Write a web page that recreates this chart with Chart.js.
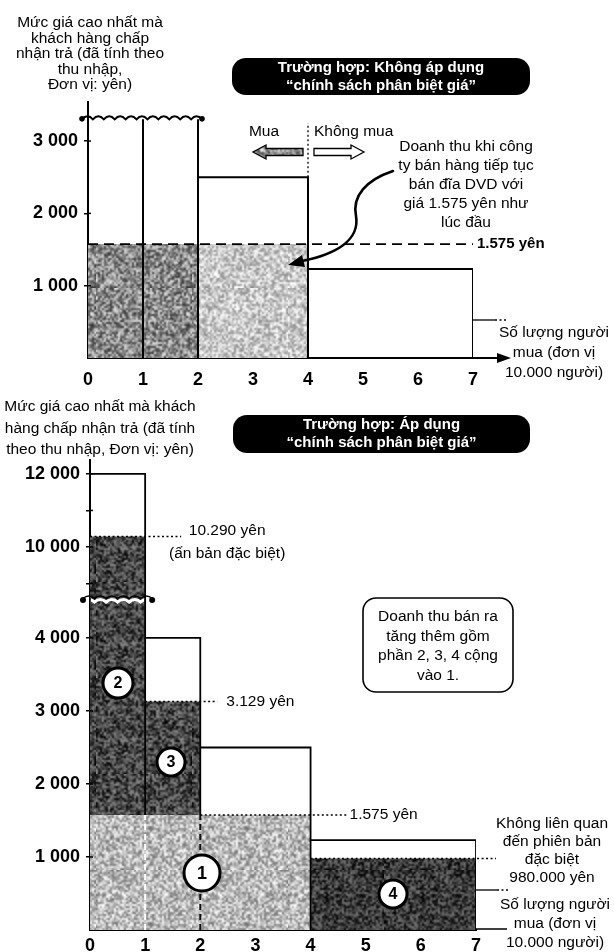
<!DOCTYPE html>
<html lang="vi">
<head>
<meta charset="utf-8">
<script src="https://cdn.jsdelivr.net/npm/chart.js@4/dist/chart.umd.min.js"></script>
<style>
  html, body { margin: 0; padding: 0; background: #fff; }
  body { width: 614px; height: 952px; position: relative; overflow: hidden; }
  canvas { position: absolute; left: 0; }
  #top { top: 0; }
  #bottom { top: 390px; }
</style>
</head>
<body>
<canvas id="top" width="614" height="390"></canvas>
<canvas id="bottom" width="614" height="562"></canvas>
<script>
// Demand steps: buyer groups (unit: 10,000 people) and the highest price each group accepts (yen)
const buyerBounds = [0, 1, 2, 4, 7];
const maxPrices = [12000, 4000, 2500, 1230];

// Prices used in the two cases
const basePrice = 1575;      // one price for everybody
const specialPrice = 10290;  // special edition
const secondPrice = 3129;    // second group
const otherPrice = 980;      // buyers who ignore the special edition
const buyersAtBase = 4;      // buyers who still buy at basePrice

// Axis ticks
const xTicks = [0, 1, 2, 3, 4, 5, 6, 7];
const topPriceTicks = [1000, 2000, 3000];
const lowPriceTicks = [1000, 2000, 3000, 4000];
const highPriceTicks = [9000, 10000, 11000, 12000];
const highPriceLabels = [10000, 12000];

// Axis ranges (the upper chart cuts the tall bars, the lower one breaks its axis)
const topAxisMax = 3540, topBreak = 3300;
const lowAxisMax = 4520, highAxisMin = 8550, highAxisMax = 12380;

const FONT = "'Liberation Sans', Arial, Helvetica, sans-serif";
const font = (size, bold) => (bold ? 'bold ' : '') + size + 'px ' + FONT;
const TXT = font(15.5);
const fmt = v => String(v).replace(/\B(?=(\d{3})+(?!\d))/g, ' ');

// Halftone-like grain for the shaded areas (coarse noise, softened by upscaling)
function grain(level, spread, seed) {
  const n = 48, c = document.createElement('canvas');
  c.width = c.height = n;
  const g = c.getContext('2d');
  const img = g.createImageData(n, n);
  let s = seed >>> 0;
  for (let i = 0; i < n * n; i++) {
    s = (Math.imul(s, 1664525) + 1013904223) >>> 0;
    const v = Math.max(0, Math.min(255, level + ((s >>> 24) - 128) / 128 * spread));
    img.data[i * 4] = img.data[i * 4 + 1] = img.data[i * 4 + 2] = v;
    img.data[i * 4 + 3] = 255;
  }
  g.putImageData(img, 0, 0);
  const big = document.createElement('canvas');
  big.width = big.height = n * 2;
  const b = big.getContext('2d');
  b.imageSmoothingEnabled = true;
  b.drawImage(c, 0, 0, n * 2, n * 2);
  return b.createPattern(big, 'repeat');
}
const grainTopDark = grain(140, 85, 7);
const grainTopLight = grain(200, 60, 11);
const grainArrow = grain(150, 80, 3);
const grainBase = grain(185, 70, 5);
const grainDeep = grain(72, 70, 13);
const grainDeeper = grain(60, 60, 17);

const pts = arr => arr.map(([x, y]) => ({ x, y }));
function fillSet(points, fill, bg, axis, order) {
  return { data: pts(points), fill, backgroundColor: bg, borderColor: 'rgba(0,0,0,0)', borderWidth: 1,
           pointRadius: 0, yAxisID: axis, order };
}
function lineSet(points, axis, extra) {
  return Object.assign({ data: pts(points), fill: false, borderColor: '#000', borderWidth: 2, pointRadius: 0,
           yAxisID: axis, order: 1, borderCapStyle: 'butt', borderJoinStyle: 'miter' }, extra || {});
}

// ---------- drawing helpers ----------
function textLines(ctx, lines, x, y0, lh, f, align, color) {
  ctx.font = f; ctx.fillStyle = color || '#000';
  ctx.textAlign = align || 'center'; ctx.textBaseline = 'middle';
  lines.forEach((t, i) => ctx.fillText(t, x, y0 + i * lh));
}
function roundRect(ctx, x, y, w, h, r) {
  ctx.beginPath();
  ctx.moveTo(x + r, y);
  ctx.arcTo(x + w, y, x + w, y + h, r);
  ctx.arcTo(x + w, y + h, x, y + h, r);
  ctx.arcTo(x, y + h, x, y, r);
  ctx.arcTo(x, y, x + w, y, r);
  ctx.closePath();
}
function dotted(ctx, x0, x1, y, w) {
  ctx.save();
  ctx.setLineDash([2, 2.5]); ctx.lineWidth = w || 1.5; ctx.strokeStyle = '#000';
  ctx.beginPath(); ctx.moveTo(x0, y); ctx.lineTo(x1, y); ctx.stroke();
  ctx.restore();
}
function wavePath(ctx, x0, x1, y, amp, n) {
  const step = (x1 - x0) / n;
  ctx.beginPath(); ctx.moveTo(x0, y);
  for (let i = 0; i < n; i++) {
    const a = x0 + i * step;
    ctx.quadraticCurveTo(a + step / 2, y - amp * 2, a + step, y);
  }
}
function dot(ctx, x, y, r) { ctx.beginPath(); ctx.arc(x, y, r, 0, Math.PI * 2); ctx.fillStyle = '#000'; ctx.fill(); }
function blockArrow(ctx, tailX, tipX, y, fillStyle) {
  const dir = Math.sign(tipX - tailX), headL = 13, shaft = 3.5, head = 7;
  const neck = tipX - dir * headL;
  ctx.beginPath();
  ctx.moveTo(tailX, y - shaft); ctx.lineTo(neck, y - shaft); ctx.lineTo(neck, y - head);
  ctx.lineTo(tipX, y); ctx.lineTo(neck, y + head); ctx.lineTo(neck, y + shaft); ctx.lineTo(tailX, y + shaft);
  ctx.closePath();
  ctx.fillStyle = fillStyle; ctx.fill();
  ctx.lineWidth = 1.3; ctx.strokeStyle = '#000'; ctx.stroke();
}
function badge(ctx, cx, cy, r, label) {
  ctx.beginPath(); ctx.arc(cx, cy, r, 0, Math.PI * 2);
  ctx.fillStyle = '#fff'; ctx.fill();
  ctx.lineWidth = 3; ctx.strokeStyle = '#000'; ctx.stroke();
  ctx.fillStyle = '#000'; ctx.font = font(r > 16 ? 18 : 16, true);
  ctx.textAlign = 'center'; ctx.textBaseline = 'middle';
  ctx.fillText(label, cx, cy + 1);
}
function titleBox(ctx, x, y, w, h, lines) {
  roundRect(ctx, x, y, w, h, 14);
  ctx.fillStyle = '#000'; ctx.fill();
  textLines(ctx, lines, x + w / 2, y + 10, 18, font(15, true), 'center', '#fff');
}

// ---------- shared axis options ----------
function xAxis(height, pad) {
  return {
    type: 'linear', min: 0, max: 7,
    afterBuildTicks: s => { s.ticks = xTicks.map(v => ({ value: v })); },
    afterFit: s => { s.height = height; },
    grid: { display: false, drawTicks: false },
    border: { display: true, color: '#000', width: 2 },
    ticks: { color: '#000', font: { family: FONT, size: 18, weight: 'bold' }, padding: pad,
             maxRotation: 0, autoSkip: false, callback: v => String(v) }
  };
}
function yAxis(width, min, max, tickValues, labelled, extra) {
  return Object.assign({
    type: 'linear', position: 'left', min, max,
    afterBuildTicks: s => { s.ticks = tickValues.map(v => ({ value: v })); },
    afterFit: s => { s.width = width; },
    grid: { display: true, drawOnChartArea: false, drawTicks: true, tickLength: 4, color: '#000', lineWidth: 1.5 },
    border: { display: true, color: '#000', width: 2 },
    ticks: { color: '#000', font: { family: FONT, size: 18, weight: 'bold' }, padding: 6, autoSkip: false,
             callback: v => (labelled.includes(v) ? fmt(v) : '') }
  }, extra || {});
}
const baseOptions = {
  responsive: false, animation: false, events: [], devicePixelRatio: 1,
  plugins: { legend: { display: false }, tooltip: { enabled: false }, title: { display: false } }
};

// ================= Case 1: one price for everybody =================
const topSets = [
  fillSet([[0, basePrice], [2, basePrice]], 'origin', grainTopDark, 'y', 12),
  fillSet([[2, basePrice], [buyersAtBase, basePrice]], 'origin', grainTopLight, 'y', 12),
  lineSet([[0, basePrice], [7, basePrice]], 'y', { borderDash: [10, 6], borderWidth: 1.8, order: 5 })
];
maxPrices.forEach((p, i) => {
  const x0 = buyerBounds[i], x1 = buyerBounds[i + 1];
  const h = Math.min(p, topBreak);
  const path = p > topBreak ? [[x1, h], [x1, 0]] : [[x0, h], [x1, h], [x1, 0]];
  topSets.push(lineSet(path, 'y', { borderWidth: 2 }));
});

const topDecor = {
  id: 'topDecor',
  afterDraw(chart) {
    const { ctx, scales: { x, y } } = chart;
    const X = v => x.getPixelForValue(v), Y = v => y.getPixelForValue(v);
    ctx.save();
    ctx.strokeStyle = '#000'; ctx.fillStyle = '#000';

    // inner halves of the price ticks
    ctx.lineWidth = 1.5;
    topPriceTicks.forEach(v => { ctx.beginPath(); ctx.moveTo(X(0), Y(v)); ctx.lineTo(X(0) + 3, Y(v)); ctx.stroke(); });

    // quantity axis arrow
    ctx.lineWidth = 2;
    ctx.beginPath(); ctx.moveTo(X(7), Y(0)); ctx.lineTo(X(7) + 28, Y(0)); ctx.stroke();
    ctx.beginPath(); ctx.moveTo(X(7) + 38, Y(0)); ctx.lineTo(X(7) + 24, Y(0) - 5); ctx.lineTo(X(7) + 24, Y(0) + 5);
    ctx.closePath(); ctx.fill();

    // leader to the axis name
    ctx.lineWidth = 1.3;
    ctx.beginPath(); ctx.moveTo(X(7), Y(0) - 38); ctx.lineTo(X(7) + 22, Y(0) - 38); ctx.stroke();
    dotted(ctx, X(7) + 22, X(7) + 35, Y(0) - 38, 1.3);

    // cut of the tall bars
    ctx.lineWidth = 2;
    wavePath(ctx, X(0) - 6, X(2) + 4, Y(topBreak), 3, 11); ctx.stroke();
    dot(ctx, X(0) - 6, Y(topBreak) - 0.5, 2.8); dot(ctx, X(2) + 4, Y(topBreak) - 0.5, 2.8);

    // buy / don't buy divider
    ctx.save(); ctx.setLineDash([2, 2.5]); ctx.lineWidth = 1.3;
    ctx.beginPath(); ctx.moveTo(X(buyersAtBase), Y(maxPrices[2])); ctx.lineTo(X(buyersAtBase), 123); ctx.stroke();
    ctx.restore();
    textLines(ctx, ['Mua'], X(buyersAtBase) - 44, 132, 0, TXT, 'center');
    textLines(ctx, ['Không mua'], X(buyersAtBase) + 6, 132, 0, TXT, 'left');
    blockArrow(ctx, X(buyersAtBase) - 5, X(buyersAtBase) - 55, 152, grainArrow);
    blockArrow(ctx, X(buyersAtBase) + 6, X(buyersAtBase) + 56, 152, '#fff');

    // price label
    textLines(ctx, ['1.575 yên'], 477, Y(basePrice), 0, font(15, true), 'left');

    // revenue note with curved pointer
    textLines(ctx, ['Doanh thu khi công', 'ty bán hàng tiếp tục', 'bán đĩa DVD với', 'giá 1.575 yên như', 'lúc đầu'],
              466, 147, 19, TXT, 'center');
    ctx.lineWidth = 2.6; ctx.lineCap = 'round';
    ctx.beginPath(); ctx.moveTo(393, 171);
    ctx.bezierCurveTo(366, 180, 352, 196, 356, 216);
    ctx.bezierCurveTo(360, 240, 336, 254, 302, 261);
    ctx.stroke();
    ctx.beginPath(); ctx.moveTo(288, 265); ctx.lineTo(302, 255); ctx.lineTo(305, 267); ctx.closePath(); ctx.fill();

    // axis names
    textLines(ctx, ['Mức giá cao nhất mà', 'khách hàng chấp', 'nhận trả (đã tính theo', 'thu nhập,', 'Đơn vị: yên)'],
              90, 23, 15.5, TXT, 'center');
    textLines(ctx, ['Số lượng người', 'mua (đơn vị', '10.000 người)'], 554, 333, 20, TXT, 'center');

    titleBox(ctx, 232, 58, 298, 37, ['Trường hợp: Không áp dụng', '“chính sách phân biệt giá”']);
    ctx.restore();
  }
};

new Chart(document.getElementById('top'), {
  type: 'line',
  data: { datasets: topSets },
  options: Object.assign({}, baseOptions, {
    layout: { padding: { top: 102, right: 141, left: 0, bottom: 0 } },
    scales: { x: xAxis(32, 11), y: yAxis(88, 0, topAxisMax, topPriceTicks, topPriceTicks) }
  }),
  plugins: [topDecor]
});

// ================= Case 2: price discrimination =================
const lowSets = [
  fillSet([[0, basePrice], [buyersAtBase, basePrice]], 'origin', grainBase, 'yLow', 12),
  fillSet([[0, Math.min(specialPrice, lowAxisMax)], [1, Math.min(specialPrice, lowAxisMax)]], { value: basePrice }, grainDeep, 'yLow', 11),
  fillSet([[1, secondPrice], [2, secondPrice]], { value: basePrice }, grainDeep, 'yLow', 11),
  fillSet([[buyersAtBase, otherPrice], [7, otherPrice]], 'origin', grainDeeper, 'yLow', 11)
];
maxPrices.forEach((p, i) => {
  const x0 = buyerBounds[i], x1 = buyerBounds[i + 1];
  const inBlock = x1 < buyersAtBase;
  const bottom = inBlock ? basePrice : 0;
  const path = p > lowAxisMax ? [[x1, lowAxisMax], [x1, bottom]] : [[x0, p], [x1, p], [x1, bottom]];
  lowSets.push(lineSet(path, 'yLow', { borderWidth: 1.8 }));
  if (inBlock) {
    lowSets.push(lineSet([[x1, 0], [x1, basePrice]], 'yLow',
      { borderDash: [6, 4], borderWidth: 2, borderColor: i === 0 ? '#fff' : '#111', order: 4 }));
  }
});
const highSets = [
  fillSet([[0, specialPrice], [1, specialPrice]], 'start', grainDeep, 'yHigh', 11),
  lineSet([[0, maxPrices[0]], [1, maxPrices[0]], [1, highAxisMin]], 'yHigh', { borderWidth: 1.8 })
];

const bottomDecor = {
  id: 'bottomDecor',
  afterDraw(chart) {
    const { ctx, scales: { x, yLow, yHigh } } = chart;
    const X = v => x.getPixelForValue(v), L = v => yLow.getPixelForValue(v), H = v => yHigh.getPixelForValue(v);
    ctx.save();
    ctx.strokeStyle = '#000'; ctx.fillStyle = '#000';

    // inner halves of the price ticks
    ctx.lineWidth = 1.5;
    lowPriceTicks.forEach(v => { ctx.beginPath(); ctx.moveTo(X(0), L(v)); ctx.lineTo(X(0) + 3, L(v)); ctx.stroke(); });
    highPriceTicks.forEach(v => { ctx.beginPath(); ctx.moveTo(X(0), H(v)); ctx.lineTo(X(0) + 3, H(v)); ctx.stroke(); });

    // price levels and their labels
    dotted(ctx, X(2), X(buyersAtBase) + 38, L(basePrice));
    textLines(ctx, ['1.575 yên'], X(buyersAtBase) + 39, L(basePrice), 0, TXT, 'left');
    dotted(ctx, X(1), X(2) + 17, L(secondPrice));
    textLines(ctx, ['3.129 yên'], X(2) + 26, L(secondPrice), 0, TXT, 'left');
    dotted(ctx, X(0), X(1) + 36, H(specialPrice));
    textLines(ctx, ['10.290 yên', '(ấn bản đặc biệt)'], X(1) + 82, H(specialPrice) - 6, 23, TXT, 'center');
    dotted(ctx, X(buyersAtBase), X(7) + 20, L(otherPrice));

    // axis break
    const yb = L(lowAxisMax);
    ctx.lineWidth = 1.6;
    wavePath(ctx, X(0) - 7, X(1) + 7, yb - 1.5, 2.5, 6); ctx.stroke();
    ctx.save();
    ctx.beginPath(); ctx.rect(X(0) + 1, yb - 8, X(1) - X(0) - 2, 16); ctx.clip();
    ctx.strokeStyle = '#fff'; ctx.lineWidth = 3;
    wavePath(ctx, X(0) - 7, X(1) + 7, yb + 2, 2.5, 6); ctx.stroke();
    ctx.restore();
    dot(ctx, X(0) - 7, yb, 3); dot(ctx, X(1) + 7, yb, 3);

    // quantity axis extension and leader
    ctx.lineWidth = 1.5;
    ctx.beginPath(); ctx.moveTo(X(7), L(0) - 1); ctx.lineTo(X(7) + 31, L(0) - 1); ctx.stroke();
    ctx.lineWidth = 1.3;
    ctx.beginPath(); ctx.moveTo(X(7), L(0) - 40); ctx.lineTo(X(7) + 21, L(0) - 40); ctx.stroke();
    dotted(ctx, X(7) + 21, X(7) + 32, L(0) - 40, 1.3);

    // area numbers
    badge(ctx, 118, 293, 15, '2');
    badge(ctx, 171, 372, 14, '3');
    badge(ctx, 202, 483, 18, '1');
    badge(ctx, 393, 504, 14, '4');

    // note box
    ctx.lineWidth = 1.6;
    roundRect(ctx, 363, 208, 150, 94, 13); ctx.fillStyle = '#fff'; ctx.fill(); ctx.stroke();
    textLines(ctx, ['Doanh thu bán ra', 'tăng thêm gồm', 'phần 2, 3, 4 cộng', 'vào 1.'], 438, 227, 19.5, TXT, 'center');

    // side notes and axis names
    textLines(ctx, ['Không liên quan', 'đến phiên bản', 'đặc biệt', '980.000 yên'], 552, 434, 18, TXT, 'center');
    textLines(ctx, ['Số lượng người', 'mua (đơn vị', '10.000 người)'], 555, 515, 19, TXT, 'center');
    textLines(ctx, ['Mức giá cao nhất mà khách', 'hàng chấp nhận trả (đã tính', 'theo thu nhập, Đơn vị: yên)'],
              100, 17, 21.5, TXT, 'center');

    titleBox(ctx, 233, 25, 297, 38, ['Trường hợp: Áp dụng', '“chính sách phân biệt giá”']);
    ctx.restore();
  }
};

new Chart(document.getElementById('bottom'), {
  type: 'line',
  data: { datasets: lowSets.concat(highSets) },
  options: Object.assign({}, baseOptions, {
    layout: { padding: { top: 70, right: 138, left: 0, bottom: 0 } },
    scales: {
      x: xAxis(22, 5),
      yLow: yAxis(90, 0, lowAxisMax, lowPriceTicks, lowPriceTicks, { stack: 'price', stackWeight: 330 }),
      yHigh: yAxis(90, highAxisMin, highAxisMax, highPriceTicks, highPriceLabels, { stack: 'price', stackWeight: 140 })
    }
  }),
  plugins: [bottomDecor]
});
</script>
</body>
</html>
